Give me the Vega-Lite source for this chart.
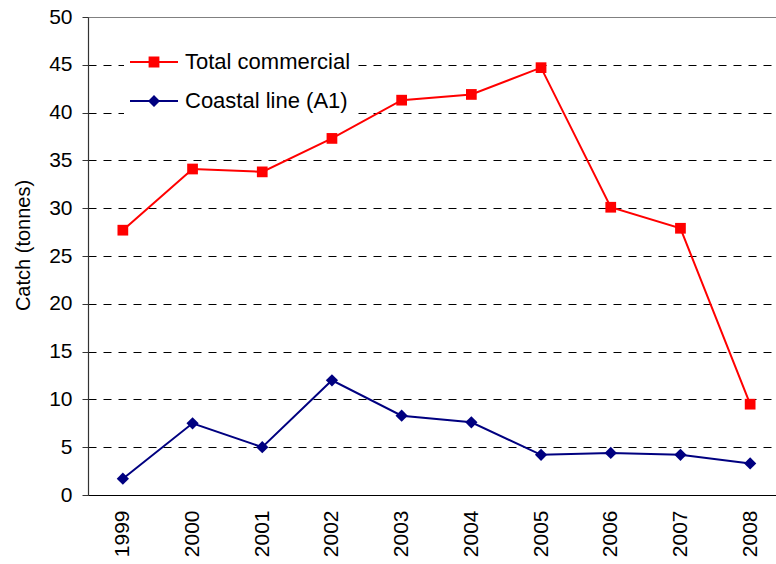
{
  "$schema": "https://vega.github.io/schema/vega-lite/v6.json",
  "autosize": "none",
  "width": 697,
  "height": 478,
  "padding": {"left": 88, "top": 17, "right": 0, "bottom": 69},
  "background": "white",
  "config": {
    "font": "Liberation Sans",
    "view": {"stroke": "#808080", "strokeWidth": 1}
  },
  "data": {
    "values": [
      {"year": "1999", "series": "Total commercial", "catch": 27.7},
      {"year": "2000", "series": "Total commercial", "catch": 34.1},
      {"year": "2001", "series": "Total commercial", "catch": 33.8},
      {"year": "2002", "series": "Total commercial", "catch": 37.3},
      {"year": "2003", "series": "Total commercial", "catch": 41.3},
      {"year": "2004", "series": "Total commercial", "catch": 41.9},
      {"year": "2005", "series": "Total commercial", "catch": 44.7},
      {"year": "2006", "series": "Total commercial", "catch": 30.1},
      {"year": "2007", "series": "Total commercial", "catch": 27.9},
      {"year": "2008", "series": "Total commercial", "catch": 9.5},
      {"year": "1999", "series": "Coastal line (A1)", "catch": 1.7},
      {"year": "2000", "series": "Coastal line (A1)", "catch": 7.5},
      {"year": "2001", "series": "Coastal line (A1)", "catch": 5.0},
      {"year": "2002", "series": "Coastal line (A1)", "catch": 12.0},
      {"year": "2003", "series": "Coastal line (A1)", "catch": 8.3},
      {"year": "2004", "series": "Coastal line (A1)", "catch": 7.6},
      {"year": "2005", "series": "Coastal line (A1)", "catch": 4.2},
      {"year": "2006", "series": "Coastal line (A1)", "catch": 4.4},
      {"year": "2007", "series": "Coastal line (A1)", "catch": 4.2},
      {"year": "2008", "series": "Coastal line (A1)", "catch": 3.3}
    ]
  },
  "encoding": {
    "x": {
      "field": "year",
      "type": "ordinal",
      "scale": {"type": "point", "padding": 0.5},
      "axis": {
        "title": null,
        "labelAngle": 270,
        "labelAlign": "right",
        "labelBaseline": "middle",
        "labelPadding": 15,
        "labelFontSize": 21,
        "labelColor": "#000",
        "ticks": false,
        "domainColor": "#000",
        "domainWidth": 1.2,
        "grid": false
      }
    },
    "y": {
      "field": "catch",
      "type": "quantitative",
      "scale": {"domain": [0, 50], "nice": false, "zero": true},
      "axis": {
        "title": "Catch (tonnes)",
        "titleFontSize": 20,
        "titleFontWeight": "normal",
        "titleColor": "#000",
        "titleAngle": 270,
        "titleAlign": "center",
        "titleBaseline": "middle",
        "titleX": -65,
        "titleY": 228,
        "values": [0, 5, 10, 15, 20, 25, 30, 35, 40, 45, 50],
        "labelFontSize": 21,
        "labelColor": "#000",
        "labelPadding": 10,
        "tickSize": 6,
        "tickColor": "#333",
        "domainColor": "#333",
        "domainWidth": 1.2,
        "grid": true,
        "gridColor": "#000",
        "gridWidth": 1,
        "gridDash": [8, 7],
        "gridOpacity": {"condition": {"test": "datum.value === 0 || datum.value === 50", "value": 0}, "value": 1}
      }
    },
    "color": {
      "field": "series",
      "type": "nominal",
      "scale": {"domain": ["Total commercial", "Coastal line (A1)"], "range": ["#ff0000", "#000080"]},
      "legend": {
        "orient": "none",
        "legendX": 36,
        "legendY": 27,
        "title": null,
        "padding": 6,
        "fillColor": "white",
        "strokeColor": null,
        "labelFont": "Liberation Sans",
        "labelFontSize": 22,
        "labelColor": "#000",
        "labelLimit": 0,
        "labelOffset": 31,
        "rowPadding": 16,
        "symbolSize": 576,
        "encode": {
          "symbols": {
            "update": {
              "shape": {"signal": "datum.value === 'Total commercial' ? 'M-1,-0.08L3,-0.08L3,0.08L-1,0.08ZM0.55,-0.45L1.45,-0.45L1.45,0.45L0.55,0.45Z' : 'M-1,-0.08L3,-0.08L3,0.08L-1,0.08ZM1,-0.5L1.5,0L1,0.5L0.5,0Z'"},
              "fill": {"signal": "datum.value === 'Total commercial' ? '#ff0000' : '#000080'"},
              "strokeWidth": {"value": 0},
              "opacity": {"value": 1}
            }
          }
        }
      }
    }
  },
  "layer": [
    {
      "mark": {"type": "line", "strokeWidth": 2}
    },
    {
      "transform": [{"filter": "datum.series === 'Total commercial'"}],
      "mark": {"type": "point", "filled": true, "opacity": 1, "shape": "square", "size": 115}
    },
    {
      "transform": [{"filter": "datum.series === 'Coastal line (A1)'"}],
      "mark": {"type": "point", "filled": true, "opacity": 1, "shape": "diamond", "size": 150}
    }
  ]
}
